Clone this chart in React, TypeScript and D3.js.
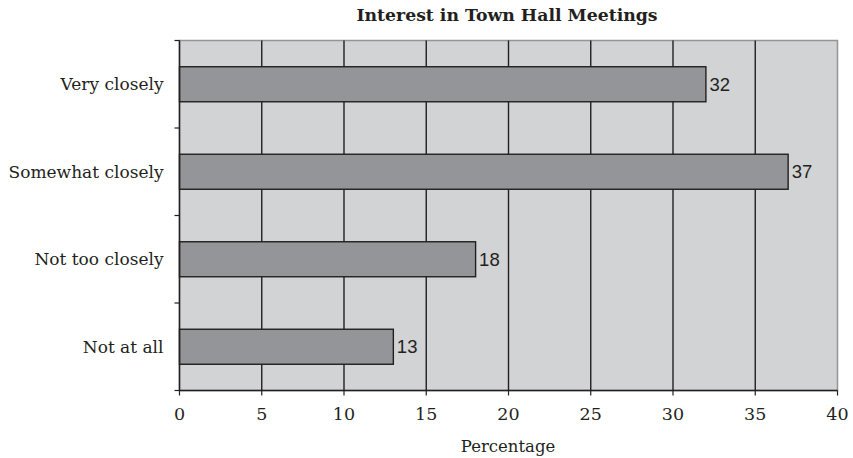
import React from "react";
import * as d3 from "d3";

const categories = ["Very closely", "Somewhat closely", "Not too closely", "Not at all"];
const percentages = [32, 37, 18, 13];
const xTicks = [0, 5, 10, 15, 20, 25, 30, 35, 40];
const title = "Interest in Town Hall Meetings";
const xLabel = "Percentage";

const W = 853;
const H = 458;
const plot = { left: 179.5, right: 837.5, top: 40.5, bottom: 390.5 };

const ink = "#231f20";
const barFill = "#939598";
const panelFill = "#d1d3d4";
const serif = "'DejaVu Serif', serif";

export default function App() {
  const x = d3.scaleLinear().domain([0, 40]).range([plot.left, plot.right]);
  const y = d3
    .scaleBand<string>()
    .domain(categories)
    .range([plot.top, plot.bottom])
    .paddingInner(0.6)
    .paddingOuter(0.3);
  const step = y.step();
  // category tick marks sit on the boundaries between bands
  const bandEdges = d3.range(categories.length + 1).map((i) => plot.top + i * step);

  return (
    <div style={{ position: "fixed", left: 0, top: 0 }}>
      <svg width={W} height={H} style={{ display: "block", background: "#fff" }}>
        <text
          x={(plot.left + plot.right) / 2 - 1.5}
          y={21}
          textAnchor="middle"
          fontFamily={serif}
          fontWeight="bold"
          fontSize={17.3}
          fill={ink}
        >
          {title}
        </text>

        {/* panel */}
        <rect
          x={plot.left}
          y={plot.top}
          width={plot.right - plot.left}
          height={plot.bottom - plot.top}
          fill={panelFill}
          stroke={barFill}
          strokeWidth={1.5}
        />

        {/* vertical gridlines */}
        {xTicks
          .filter((t) => t > 0 && t < 40)
          .map((t) => (
            <line
              key={`g${t}`}
              x1={x(t)}
              x2={x(t)}
              y1={plot.top}
              y2={plot.bottom}
              stroke={ink}
              strokeWidth={1.4}
            />
          ))}

        {/* bars */}
        {categories.map((c, i) => (
          <rect
            key={c}
            x={x(0)}
            y={y(c)}
            width={x(percentages[i]) - x(0)}
            height={y.bandwidth()}
            fill={barFill}
            stroke={ink}
            strokeWidth={1.4}
          />
        ))}

        {/* value labels */}
        {categories.map((c, i) => (
          <text
            key={`v${c}`}
            x={x(percentages[i]) + 3.5}
            y={(y(c) as number) + y.bandwidth() / 2 + 6.5}
            fontFamily="'Liberation Sans', Arial, sans-serif"
            fontSize={18.5}
            fill={ink}
          >
            {percentages[i]}
          </text>
        ))}

        {/* left axis */}
        <line x1={plot.left} x2={plot.left} y1={plot.top} y2={plot.bottom} stroke={ink} strokeWidth={1.5} />
        {bandEdges.map((v, i) => (
          <line key={`yt${i}`} x1={plot.left - 5} x2={plot.left} y1={v} y2={v} stroke={ink} strokeWidth={1.2} />
        ))}
        {categories.map((c) => (
          <text
            key={`l${c}`}
            x={plot.left - 16}
            y={(y(c) as number) + y.bandwidth() / 2 + 6}
            textAnchor="end"
            fontFamily={serif}
            fontSize={17}
            fill={ink}
          >
            {c}
          </text>
        ))}

        {/* bottom axis */}
        <line x1={plot.left} x2={plot.right} y1={plot.bottom} y2={plot.bottom} stroke={ink} strokeWidth={1.5} />
        {xTicks.map((t) => (
          <g key={`xt${t}`}>
            <line x1={x(t)} x2={x(t)} y1={plot.bottom} y2={plot.bottom + 5} stroke={ink} strokeWidth={1.2} />
            <text
              x={x(t)}
              y={plot.bottom + 29}
              textAnchor="middle"
              fontFamily={serif}
              fontSize={17.5}
              fill={ink}
            >
              {t}
            </text>
          </g>
        ))}
        <text
          x={(plot.left + plot.right) / 2 - 0.5}
          y={452}
          textAnchor="middle"
          fontFamily={serif}
          fontSize={16.5}
          fill={ink}
        >
          {xLabel}
        </text>
      </svg>
    </div>
  );
}
